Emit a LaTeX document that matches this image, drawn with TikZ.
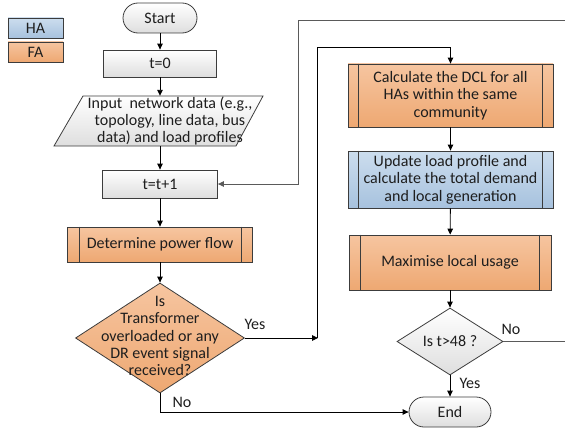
\documentclass[tikz,border=0pt]{standalone}
\usepackage{fontspec}
\setmainfont{Carlito}
\usetikzlibrary{shapes.geometric,arrows.meta,calc}
\definecolor{orT}{HTML}{F6C5A0}
\definecolor{orB}{HTML}{EEA872}
\definecolor{blT}{HTML}{CCDDEE}
\definecolor{blB}{HTML}{A7C2DE}
\definecolor{grT}{HTML}{FFFFFF}
\definecolor{grB}{HTML}{DEDEDE}
\definecolor{bord}{HTML}{3C3C3C}
\definecolor{txt}{HTML}{1E1E1E}
\definecolor{loopc}{HTML}{5A5A5A}
\begin{document}
\begin{tikzpicture}[x=1pt,y=-1pt,
  font=\fontsize{16}{17.4}\selectfont,
  base/.style={draw=bord, line width=0.8pt, inner sep=0pt, align=center, text=txt},
  graybox/.style={base, top color=grT, bottom color=grB},
  orbox/.style={base, top color=orT, bottom color=orB},
  bluebox/.style={base, top color=blT, bottom color=blB},
  plain/.style={inner sep=0pt, align=center, text=txt},
  arr/.style={-{Triangle[length=6pt,width=5.5pt]}, line width=0.9pt, draw=black},
  looparr/.style={-{Triangle[length=6pt,width=5.5pt]}, line width=1pt, draw=loopc},
  lbl/.style={inner sep=0pt, text=txt}
]
\useasboundingbox (0,0) rectangle (565,428);

% legend
\node[bluebox, minimum width=55pt, minimum height=20pt] (ha) at (35.5,28) {HA};
\node[orbox, minimum width=55pt, minimum height=20pt] (fa) at (35.5,52) {FA};

% left column
\node[graybox, minimum width=74pt, minimum height=30pt, rounded corners=15pt] (start) at (160,18) {Start};
\node[graybox, minimum width=113pt, minimum height=27pt] (t0) at (160,63.5) {t=0};
\shade[top color=grT, bottom color=grB, draw=bord, line width=0.8pt]
  (83,96) -- (263,96) -- (236,146) -- (54,146) -- cycle;
\node[plain, minimum height=50pt] (inp) at (170,121) {Input\ \ network data (e.g.,\\topology, line data, bus\\data) and load profiles};
\node[graybox, minimum width=115pt, minimum height=28pt] (tt1) at (160,184) {t=t+1};
\node[orbox, minimum width=185pt, minimum height=35pt] (dpf) at (160,244.5) {Determine power flow};
\draw[bord, line width=0.8pt] ([xshift=12pt]dpf.north west) -- ([xshift=12pt]dpf.south west)
  ([xshift=-12pt]dpf.north east) -- ([xshift=-12pt]dpf.south east);
\node[orbox, diamond, minimum width=169pt, minimum height=110pt] (d1) at (160,338) {};
\node[plain] at (160,336) {Is\\Transformer\\overloaded or any\\DR event signal\\received?};

% right column
\node[orbox, minimum width=205pt, minimum height=63pt] (dcl) at (450.5,95.5) {Calculate the DCL for all\\HAs within the same\\community};
\draw[bord, line width=0.8pt] ([xshift=11pt]dcl.north west) -- ([xshift=11pt]dcl.south west)
  ([xshift=-11pt]dcl.north east) -- ([xshift=-11pt]dcl.south east);
\node[bluebox, minimum width=205pt, minimum height=57pt] (upd) at (450.5,179.5) {Update load profile and\\calculate the total demand\\and local generation};
\draw[bord, line width=0.8pt] ([xshift=11pt]upd.north west) -- ([xshift=11pt]upd.south west)
  ([xshift=-11pt]upd.north east) -- ([xshift=-11pt]upd.south east);
\node[orbox, minimum width=202pt, minimum height=55pt] (mx) at (450,262.5) {Maximise local usage};
\draw[bord, line width=0.8pt] ([xshift=12pt]mx.north west) -- ([xshift=12pt]mx.south west)
  ([xshift=-12pt]mx.north east) -- ([xshift=-12pt]mx.south east);
\node[graybox, diamond, minimum width=106pt, minimum height=67pt] (d2) at (450,341.5) {};
\node[plain] at (450,341.5) {Is t>48 ?};
\node[graybox, minimum width=82pt, minimum height=30pt, rounded corners=15pt] (end) at (450,412) {End};

% connectors
\draw[arr] (start) -- (t0);
\draw[arr] (t0.south) -- (t0.south |- inp.north);
\draw[arr] (inp.south -| tt1.north) -- (tt1.north);
\draw[arr] (tt1) -- (dpf);
\draw[arr] (dpf) -- (d1);
\draw[arr] (dcl) -- (upd);
\draw[arr] (upd) -- (mx);
\draw[arr] (mx) -- (d2);
\draw[arr] (d2) -- (end);

\coordinate (j) at (318,338);
\coordinate (k) at (317,47);
\draw[arr] (d1.east) -- (j);
\draw[arr] (j -| k) -- (k) -| (dcl.north);
\draw[arr] (d1.south) |- (end.west);

\coordinate (r1) at (572,341.5);
\coordinate (l1) at (298,21);
\draw[looparr] (d2.east) -- (r1) |- (l1) |- (tt1.east);

% labels
\node[lbl] at (255,324) {Yes};
\node[lbl] at (182,402) {No};
\node[lbl] at (470,383) {Yes};
\node[lbl] at (511,329) {No};
\end{tikzpicture}
\end{document}
